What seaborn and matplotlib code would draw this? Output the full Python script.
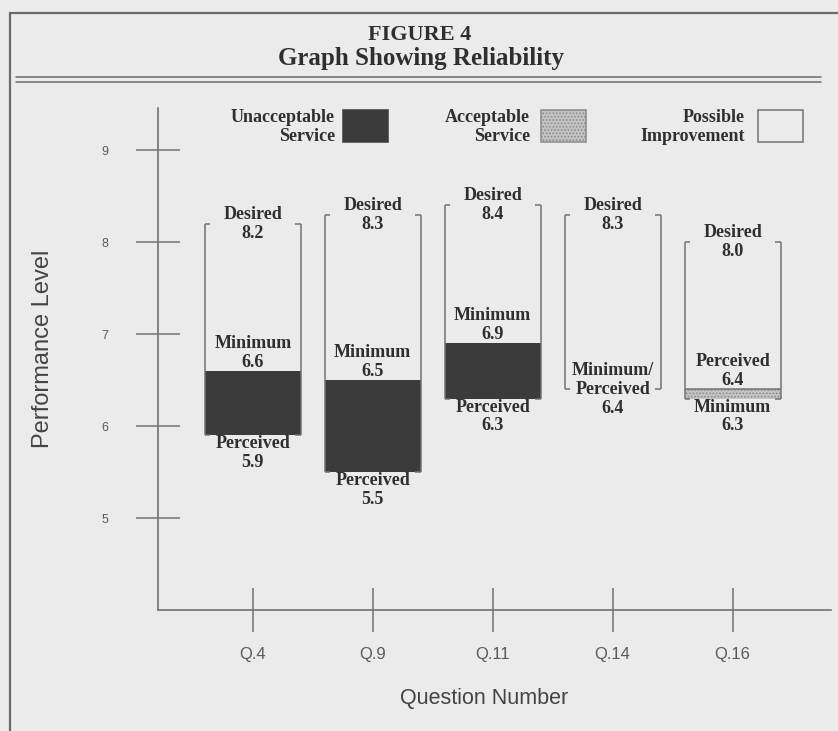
import numpy as np
import pandas as pd
import matplotlib
matplotlib.use('Agg')
import matplotlib.pyplot as plt
import seaborn as sns
from matplotlib.lines import Line2D
from matplotlib.patches import Rectangle

# data
questions = ['Q.4', 'Q.9', 'Q.11', 'Q.14', 'Q.16']
desired = [8.2, 8.3, 8.4, 8.3, 8.0]
minimum = [6.6, 6.5, 6.9, 6.4, 6.3]
perceived = [5.9, 5.5, 6.3, 6.4, 6.4]
y_ticks = [5, 6, 7, 8, 9]

W, H = 838, 731
bg = '#ebebeb'
ink = '#2f2f2f'
line_c = '#727272'
dark = '#3b3b3b'
stipple = '#c4c4c4'

sns.set_theme(style='white')
serif = ['Liberation Serif', 'DejaVu Serif']
sans = ['Liberation Sans', 'DejaVu Sans']
plt.rcParams['font.family'] = sans
plt.rcParams['hatch.linewidth'] = 0.8

df = pd.DataFrame({'question': questions, 'desired': desired,
                   'minimum': minimum, 'perceived': perceived})
df['unacc'] = (df['minimum'] - df['perceived']).clip(lower=0)
df['acc'] = (df['perceived'] - df['minimum']).clip(lower=0)
df['low'] = df[['minimum', 'perceived']].min(axis=1)


def px(x, y):
    # pixel position -> figure fraction
    return x / W, 1 - y / H


fig = plt.figure(figsize=(W / 100, H / 100), dpi=100, facecolor=bg)
ax = fig.add_axes([158 / W, 121 / H, 673 / W, 502 / H])
ax.set_facecolor('none')

bw = 0.8
# unacceptable service: perceived below minimum
sns.barplot(data=df, x='question', y='unacc', bottom=df['perceived'].values,
            width=bw, color=dark, saturation=1, linewidth=0, errorbar=None, ax=ax)
# acceptable service: perceived above minimum
sns.barplot(data=df, x='question', y='acc', bottom=df['minimum'].values,
            width=bw, color=stipple, saturation=1, edgecolor='#8a8a8a', hatch='.....',
            linewidth=0, errorbar=None, ax=ax)

# zone outline (possible improvement up to desired)
xs = np.arange(len(df))
ax.vlines(np.r_[xs - bw / 2, xs + bw / 2], np.r_[df['low'], df['low']],
          np.r_[df['desired'], df['desired']], color=line_c, lw=1.1)
sw = 0.045
for side in (-1, 1):
    edge = xs + side * bw / 2
    ax.hlines(df['desired'], edge - side * sw, edge, color=line_c, lw=1.1)
    ax.hlines(df['low'], edge - side * sw, edge, color=line_c, lw=1.1)
acc_rows = df[df['acc'] > 0]
ax.hlines(acc_rows['perceived'], acc_rows.index - bw / 2, acc_rows.index + bw / 2,
          color=line_c, lw=1.1)

lab = dict(ha='center', family=serif, weight='bold', fontsize=13, color=ink, linespacing=1.15)
for i, r in df.iterrows():
    ax.text(i, r['desired'], f"Desired\n{r['desired']:.1f}", va='center', **lab)
    if r['perceived'] < r['minimum']:
        ax.text(i, r['minimum'], f"Minimum\n{r['minimum']:.1f}", va='bottom', **lab)
        ax.text(i, r['perceived'], f"Perceived\n{r['perceived']:.1f}", va='top', **lab)
    elif r['perceived'] == r['minimum']:
        ax.text(i, r['minimum'], f"Minimum/\nPerceived\n{r['minimum']:.1f}", va='center', **lab)
    else:
        ax.text(i, r['perceived'], f"Perceived\n{r['perceived']:.1f}", va='bottom', **lab)
        ax.text(i, r['minimum'], f"Minimum\n{r['minimum']:.1f}", va='top', **lab)

ax.set_xlim(-0.79, 4.82)
ax.set_ylim(4.0, 9.46)
ax.set_yticks(y_ticks)
ax.tick_params(axis='both', direction='inout', length=32, width=1.1, color=line_c,
               labelcolor='#5a5a5a')
ax.tick_params(axis='y', pad=20, labelsize=9, left=True)
ax.tick_params(axis='x', pad=11, labelsize=12, bottom=True)
for s in ['top', 'right']:
    ax.spines[s].set_visible(False)
for s in ['left', 'bottom']:
    ax.spines[s].set_color(line_c)
    ax.spines[s].set_linewidth(1.2)
ax.set_xlabel('Question Number', fontsize=15.5, color='#444444')
ax.set_ylabel('Performance Level', fontsize=17, color='#444444')
ax.xaxis.set_label_coords(0.484, -0.156)
ax.yaxis.set_label_coords(-0.155, 0.52)

# title block
fig.text(*px(420, 35), 'FIGURE 4', ha='center', va='center', family=serif,
         weight='bold', fontsize=16, color=ink)
fig.text(*px(421, 59), 'Graph Showing Reliability', ha='center', va='center',
         family=serif, weight='bold', fontsize=18, color=ink)
fig.add_artist(Line2D([10 / W, 1], [1 - 13 / H] * 2, color='#6a6a6a', lw=1.6))
fig.add_artist(Line2D([10 / W] * 2, [1 - 13 / H, 0], color='#6a6a6a', lw=1.6))
for yy in (77, 82):
    fig.add_artist(Line2D([16 / W, 821 / W], [1 - yy / H] * 2, color='#6a6a6a', lw=1.1))

# legend
legend_items = [
    ('Unacceptable\nService', 335, 343, dict(facecolor=dark, edgecolor=dark)),
    ('Acceptable\nService', 530, 541, dict(facecolor=stipple, edgecolor='#8a8a8a', hatch='.....')),
    ('Possible\nImprovement', 745, 758, dict(facecolor='none', edgecolor=line_c)),
]
for text, tx, bx, style in legend_items:
    fig.text(*px(tx, 127), text, ha='right', va='center', multialignment='right',
             family=serif, weight='bold', fontsize=13, color=ink, linespacing=1.15)
    x0, y0 = px(bx, 142)
    fig.add_artist(Rectangle((x0, y0), 45 / W, 32 / H, transform=fig.transFigure,
                             lw=1.1, **style))

fig.savefig('out.png', dpi=100, facecolor=bg)
